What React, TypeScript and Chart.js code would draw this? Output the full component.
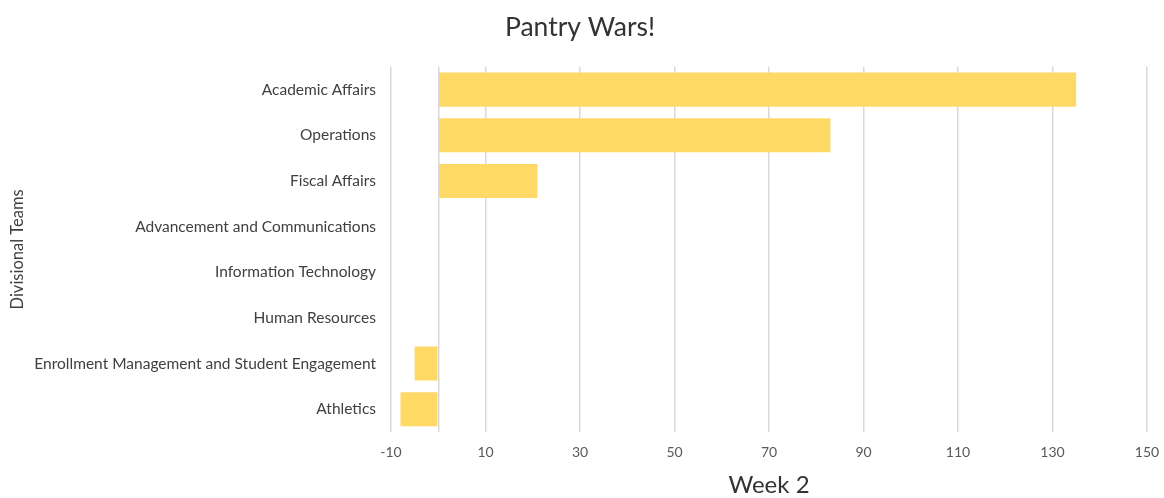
import React, { useEffect, useRef } from "react";
import { Chart, registerables } from "chart.js";

Chart.register(...registerables);

const categories: string[] = [
  "Academic Affairs",
  "Operations",
  "Fiscal Affairs",
  "Advancement and Communications",
  "Information Technology",
  "Human Resources",
  "Enrollment Management and Student Engagement",
  "Athletics",
];

const week2Values: number[] = [135, 83, 21, 0, 0, 0, -5, -8];

const xMin = -10;
const xMax = 150;
const xStep = 20;

const chartTitle = "Pantry Wars!";
const xTitle = "Week 2";
const yTitle = "Divisional Teams";

const FONT = "Lato, 'Open Sans', sans-serif";

export default function App() {
  const canvasRef = useRef<HTMLCanvasElement | null>(null);

  useEffect(() => {
    const canvas = canvasRef.current;
    if (!canvas) return;
    const chart = new Chart(canvas, {
      type: "bar",
      data: {
        labels: categories,
        datasets: [
          {
            label: xTitle,
            data: week2Values,
            backgroundColor: "#FFD966",
            borderWidth: 0,
            categoryPercentage: 1,
            barPercentage: 0.745,
          },
        ],
      },
      options: {
        indexAxis: "y",
        animation: false,
        responsive: false,
        maintainAspectRatio: false,
        layout: { padding: { left: 0, right: 4, top: 0, bottom: 0 } },
        plugins: {
          legend: { display: false },
          tooltip: { enabled: false },
          title: {
            display: true,
            text: chartTitle,
            color: "#333333",
            font: { family: FONT, size: 26.5, weight: "normal", lineHeight: 1.2 },
            padding: { top: 12, bottom: 23 },
          },
        },
        scales: {
          x: {
            type: "linear",
            min: xMin,
            max: xMax,
            afterBuildTicks: (scale: any) => {
              const t = scale.ticks.slice();
              if (!t.some((k: any) => k.value === 0)) t.push({ value: 0 });
              t.sort((a: any, b: any) => a.value - b.value);
              scale.ticks = t;
            },
            afterFit: (scale: any) => {
              scale.height = 66;
              scale.paddingRight = 17;
              scale.paddingLeft = 0;
            },
            ticks: {
              stepSize: xStep,
              padding: 12,
              color: "#595959",
              font: { family: FONT, size: 14 },
              callback: (v: any) => (v === 0 ? "" : String(v)),
            },
            grid: { color: "#D9D9D9", lineWidth: 1.5, drawTicks: false },
            border: { display: false },
            title: {
              display: true,
              text: xTitle,
              color: "#333333",
              font: { family: FONT, size: 24, lineHeight: 1 },
              padding: { top: 0, bottom: 1 },
            },
          },
          y: {
            afterFit: (scale: any) => {
              scale.width = 391;
            },
            ticks: {
              padding: 15,
              color: "#404040",
              font: { family: FONT, size: 15.5 },
              autoSkip: false,
            },
            grid: { display: false, drawTicks: false },
            border: { display: false },
            title: {
              display: true,
              text: yTitle,
              color: "#404040",
              font: { family: FONT, size: 16.5, lineHeight: 1.2 },
              padding: { top: 8, bottom: 0 },
            },
          },
        },
      },
    });
    return () => chart.destroy();
  }, []);

  return (
    <div style={{ position: "absolute", left: 0, top: 0, width: 1164, height: 498, background: "#fff" }}>
      <canvas ref={canvasRef} width={1164} height={498} style={{ width: 1164, height: 498, display: "block" }} />
    </div>
  );
}
